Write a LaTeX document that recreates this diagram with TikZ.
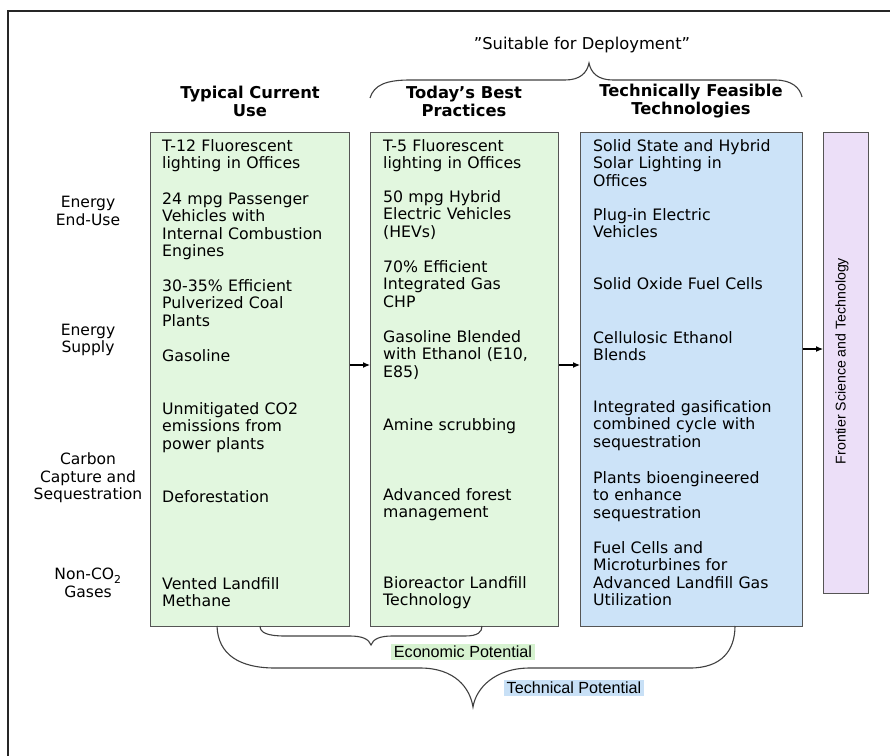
\documentclass[tikz,border=0pt]{standalone}
\usepackage{fontspec}
\setmainfont{DejaVu Sans}
\newfontfamily\libsans{Liberation Sans}
\usetikzlibrary{arrows.meta}
\definecolor{greenbox}{RGB}{226,247,223}
\definecolor{bluebox}{RGB}{204,227,248}
\definecolor{purplebox}{RGB}{236,223,248}
\definecolor{borderc}{RGB}{85,85,85}
\definecolor{econbg}{RGB}{214,242,208}
\definecolor{techbg}{RGB}{200,224,246}
\tikzset{
  colbox/.style={draw=borderc, line width=1.3bp, anchor=north west, inner sep=0pt},
  item/.style={anchor=base west, inner sep=0pt, text width=215bp, align=left,
    font=\fontsize{15.8}{17.4}\selectfont},
  rowlabel/.style={anchor=center, inner sep=0pt, align=center,
    font=\fontsize{15.6}{17.4}\selectfont},
  header/.style={anchor=center, inner sep=0pt, align=center,
    font=\bfseries\fontsize{16.4}{18}\selectfont},
  potlabel/.style={anchor=center, inner xsep=3bp, inner ysep=2bp,
    font=\libsans\fontsize{16.2}{17}\selectfont},
  conn/.style={-{Latex[length=7bp,width=6bp]}, line width=1.1bp, black},
  bracel/.style={line width=1.1bp, black!75},
  framel/.style={line width=2bp, black!85}
}
\begin{document}
\begin{tikzpicture}[x=1bp,y=-1bp]
\useasboundingbox (0,0) rectangle (890,756);
\draw[framel] (8,760) -- (8,11) -- (894,11);

% column boxes
\node[colbox, fill=greenbox, minimum width=199bp, minimum height=494bp] (b1) at (150,132) {};
\node[colbox, fill=greenbox, minimum width=188bp, minimum height=494bp] (b2) at (370,132) {};
\node[colbox, fill=bluebox, minimum width=222bp, minimum height=494bp] (b3) at (580,132) {};
\node[colbox, fill=purplebox, minimum width=45bp, minimum height=461bp] (b4) at (823,132) {};
\node[rotate=90, inner sep=0pt, font=\libsans\fontsize{14.2}{16}\selectfont] (frontier) at (842,361) {Frontier Science and Technology};

% headers
\node[anchor=center, inner sep=0pt, font=\fontsize{16.4}{18}\selectfont] (suitable) at (582,45) {”Suitable for Deployment”};
\node[header] (h1) at (250,101) {Typical Current\\Use};
\node[header] (h2) at (464,101) {Today’s Best\\Practices};
\node[header] (h3) at (691,101) {Technically Feasible\\Technologies};

% row labels
\node[rowlabel] (r1) at (88,211) {Energy\\End-Use};
\node[rowlabel] (r2) at (88,340) {Energy\\Supply};
\node[rowlabel] (r3) at (88,478) {Carbon\\Capture and\\Sequestration};
\node[rowlabel] (r4) at (88,583) {Non-CO\textsubscript{2}\\Gases};

% column 1
\node[item] (a1) at (162,151.5) {T-12 Fluorescent\\lighting in Offices};
\node[item] (a2) at (162,204.5) {24 mpg Passenger\\Vehicles with\\Internal Combustion\\Engines};
\node[item] (a3) at (162,291.5) {30-35\% Efficient\\Pulverized Coal\\Plants};
\node[item] (a4) at (162,361.5) {Gasoline};
\node[item] (a5) at (162,414.5) {Unmitigated CO2\\emissions from\\power plants};
\node[item] (a6) at (162,502.5) {Deforestation};
\node[item] (a7) at (162,589.5) {Vented Landfill\\Methane};

% column 2
\node[item] (c1) at (383,151.5) {T-5 Fluorescent\\lighting in Offices};
\node[item] (c2) at (383,202.5) {50 mpg Hybrid\\Electric Vehicles\\(HEVs)};
\node[item] (c3) at (383,272.5) {70\% Efficient\\Integrated Gas\\CHP};
\node[item] (c4) at (383,342.5) {Gasoline Blended\\with Ethanol (E10,\\E85)};
\node[item] (c5) at (383,430.5) {Amine scrubbing};
\node[item] (c6) at (383,500.5) {Advanced forest\\management};
\node[item] (c7) at (383,588.5) {Bioreactor Landfill\\Technology};

% column 3
\node[item] (d1) at (593,151.5) {Solid State and Hybrid\\Solar Lighting in\\Offices};
\node[item] (d2) at (593,220.5) {Plug-in Electric\\Vehicles};
\node[item] (d3) at (593,289.5) {Solid Oxide Fuel Cells};
\node[item] (d4) at (593,343.5) {Cellulosic Ethanol\\Blends};
\node[item] (d5) at (593,412.5) {Integrated gasification\\combined cycle with\\sequestration};
\node[item] (d6) at (593,483.5) {Plants bioengineered\\to enhance\\sequestration};
\node[item] (d7) at (593,553.5) {Fuel Cells and\\Microturbines for\\Advanced Landfill Gas\\Utilization};

% arrows between columns
\coordinate (ya) at (0,365);
\coordinate (yb) at (0,349);
\draw[conn] (b1.east |- ya) -- (b2.west |- ya);
\draw[conn] (b2.east |- ya) -- (b3.west |- ya);
\draw[conn] (b3.east |- yb) -- (b4.west |- yb);

% top brace
\coordinate (tl) at (370,98);
\coordinate (tt) at (589,63);
\coordinate (tr) at (802,97);
\draw[bracel] (tl) .. controls (374,85) and (386,80) .. (410,80) -- (565,80)
  .. controls (580,80) and (587,73) .. (tt)
  .. controls (591,73) and (598,80) .. (613,80) -- (775,80)
  .. controls (792,80) and (800,88) .. (tr);

% economic brace
\coordinate (el) at (260,626);
\coordinate (et) at (371,645);
\coordinate (er) at (482,626);
\draw[bracel] (el) .. controls (260,633) and (268,636) .. (285,636) -- (350,636)
  .. controls (362,636) and (369,639) .. (et)
  .. controls (373,639) and (380,636) .. (392,636) -- (465,636)
  .. controls (478,636) and (482,632) .. (er);

% technical brace
\coordinate (xl) at (217,626);
\coordinate (xt) at (473,707);
\coordinate (xr) at (735,626);
\draw[bracel] (xl) .. controls (218,655) and (240,668) .. (275,668) -- (420,668)
  .. controls (455,668) and (470,688) .. (xt)
  .. controls (476,688) and (495,668) .. (530,668) -- (690,668)
  .. controls (722,668) and (735,650) .. (xr);

% potential labels
\node[potlabel, fill=econbg] (econ) at (463,652) {Economic Potential};
\node[potlabel, fill=techbg] (tech) at (574,688) {Technical Potential};
\end{tikzpicture}
\end{document}
